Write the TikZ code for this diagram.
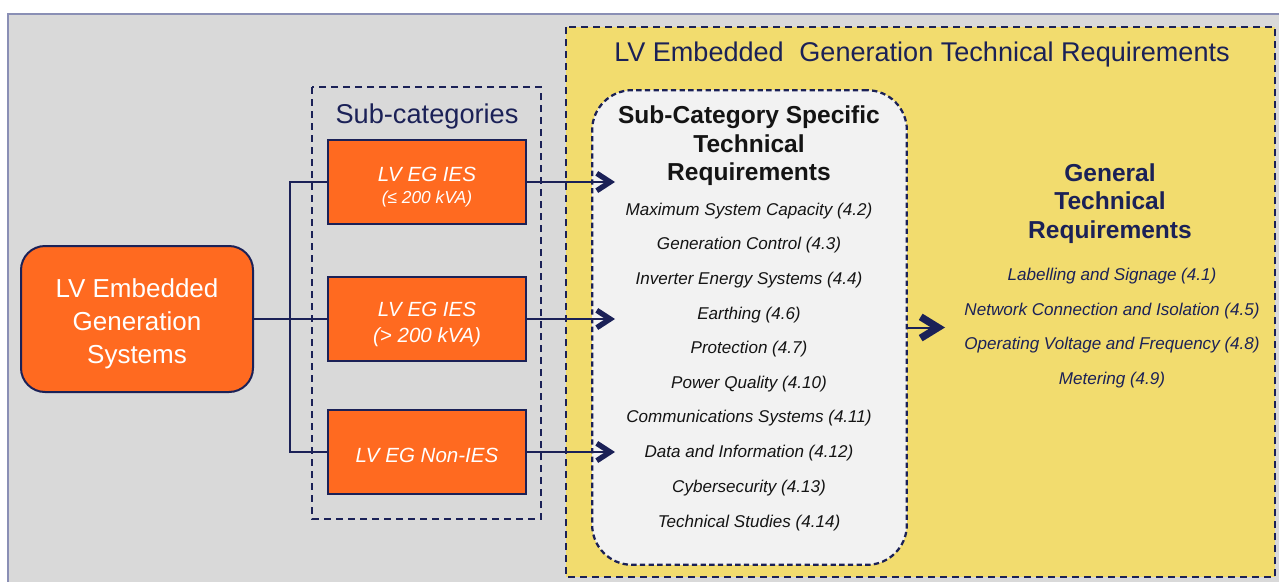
\documentclass[tikz,border=0pt]{standalone}
\usepackage{fontspec}
\setmainfont{Liberation Sans}
\usetikzlibrary{arrows.meta}

\definecolor{egnavy}{HTML}{1B2157}
\definecolor{egorange}{HTML}{FF6A20}
\definecolor{eggrey}{HTML}{D9D9D9}
\definecolor{egyellow}{HTML}{F2DC6E}
\definecolor{egpale}{HTML}{F2F2F2}
\definecolor{egframe}{HTML}{8A8FB5}
\definecolor{egtext}{HTML}{141414}

% strut that pushes the first line of a box down a little
\newcommand{\boxlift}[1]{\rule{0pt}{#1}}

\tikzset{
  conn/.style={draw=egnavy, line width=1.5pt},
  arr/.style={conn, -{Straight Barb[length=10pt,width=13pt,line width=4pt,line join=miter,line cap=butt]}},
  bigarr/.style={conn, -{Straight Barb[length=13pt,width=16pt,line width=5.5pt,line join=miter,line cap=butt]}},
  catbox/.style={draw=egnavy, line width=1.5pt, fill=egorange, text=white,
    minimum width=148.5pt, minimum height=63pt, inner sep=0pt, align=center,
    font=\fontsize{15.4}{19.5}\selectfont\itshape},
  groupbox/.style={draw=egnavy, line width=1.7pt, dash pattern=on 5.5pt off 3.5pt},
  item/.style={inner sep=0pt, font=\fontsize{12.8}{15}\selectfont\itshape},
  heading/.style={inner sep=0pt, align=center, font=\fontsize{18.4}{21.4}\selectfont\bfseries},
}

\begin{document}
\begin{tikzpicture}[x=0.75pt,y=-0.75pt]
\useasboundingbox (0,0) rectangle (1279,582);
\fill[white] (0,0) rectangle (1279,582);
% grey page area
\fill[eggrey] (8,14) rectangle (1279,582);
\draw[egframe, line width=0.8pt] (8,582) -- (8,14) -- (1279,14);

% requirements area
\draw[groupbox, fill=egyellow] (566,27) rectangle (1275,577);
\node[text=egnavy, font=\fontsize{20.3}{24}\selectfont] (title) at (922,55) {LV Embedded\hspace{0.3em} Generation Technical Requirements};

% sub-categories
\draw[groupbox] (312,87) rectangle (541,519);
\node[text=egnavy, font=\fontsize{20.4}{24}\selectfont] (subtitle) at (427,116) {Sub-categories};
\node[catbox] (ies) at (427,182) {\boxlift{18.5pt}LV EG IES\\[-3pt]{\fontsize{13}{15}\selectfont(≤ 200 kVA)}};
\node[catbox] (iesbig) at (427,319) {\boxlift{18.5pt}LV EG IES\\(> 200 kVA)};
\node[catbox] (nonies) at (427,452) {\boxlift{15.5pt}LV EG Non-IES};

\node[draw=egnavy, line width=1.5pt, fill=egorange, text=white, rounded corners=18pt,
  minimum width=174pt, minimum height=109.5pt, inner sep=0pt, align=center,
  font=\fontsize{19.5}{24.75}\selectfont] (lvegs) at (137,319) {\boxlift{21pt}LV Embedded\\Generation\\Systems};

% sub-category specific block
\node[draw=egnavy, line width=1.7pt, dash pattern=on 4pt off 2.5pt, fill=egpale,
  rounded corners=30pt, minimum width=236pt, minimum height=356pt] (specific) at (749.5,327.5) {};
\node[heading, text=egtext] (spechead) at (749,146) {Sub-Category Specific\\Technical\\Requirements};
\node[item, text=egtext] (s1) at (749,211.5) {Maximum System Capacity (4.2)};
\node[item, text=egtext] (s2) at (749,245.5) {Generation Control (4.3)};
\node[item, text=egtext] (s3) at (749,280.5) {Inverter Energy Systems (4.4)};
\node[item, text=egtext] (s4) at (749,315.5) {Earthing (4.6)};
\node[item, text=egtext] (s5) at (749,349.5) {Protection (4.7)};
\node[item, text=egtext] (s6) at (749,384.5) {Power Quality (4.10)};
\node[item, text=egtext] (s7) at (749,418.5) {Communications Systems (4.11)};
\node[item, text=egtext] (s8) at (749,453.5) {Data and Information (4.12)};
\node[item, text=egtext] (s9) at (749,488.5) {Cybersecurity (4.13)};
\node[item, text=egtext] (s10) at (749,523.5) {Technical Studies (4.14)};

% general block
\node[heading, text=egnavy] (genhead) at (1110,203.5) {General\\Technical\\Requirements};
\node[item, text=egnavy] (g1) at (1112,276) {Labelling and Signage (4.1)};
\node[item, text=egnavy] (g2) at (1112,311) {Network Connection and Isolation (4.5)};
\node[item, text=egnavy] (g3) at (1112,345) {Operating Voltage and Frequency (4.8)};
\node[item, text=egnavy] (g4) at (1112,380) {Metering (4.9)};

% connectors
\coordinate (trunk) at (290,0);
\coordinate (tip) at (615,0);
\coordinate (gentip) at (945,0);
\draw[conn] (lvegs.east) -- (iesbig.west);
\draw[conn] (ies.west) -- (ies.west -| trunk) -- (nonies.west -| trunk) -- (nonies.west);
\draw[arr] (ies.east) -- (ies.east -| tip);
\draw[arr] (iesbig.east) -- (iesbig.east -| tip);
\draw[arr] (nonies.east) -- (nonies.east -| tip);
\draw[bigarr] (specific.east) -- (specific.east -| gentip);
\end{tikzpicture}
\end{document}
